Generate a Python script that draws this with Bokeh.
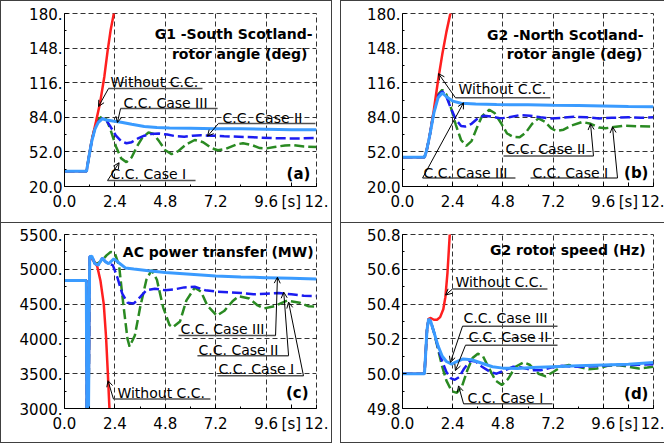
from bokeh.plotting import figure
from bokeh.layouts import row, column
from bokeh.models import Range1d, FixedTicker, Label, Arrow, OpenHead, Spacer
from bokeh.embed import file_html
from bokeh.resources import INLINE

FONT = "DejaVu Sans"
RED = "#ff1f1f"
LBLUE = "#3a9bff"
DBLUE = "#1c1cf0"
GREEN = "#2a8a22"

# ---------------- shared time axis ----------------
time_ticks = [0.0, 2.4, 4.8, 7.2, 9.6, 10.8, 12.0]
time_tick_labels = ["0.0", "2.4", "4.8", "7.2", "9.6", "[s]", "12."]
time_minor_ticks = [1.2, 3.6, 6.0, 8.4]
time_grid = [2.4, 4.8, 7.2, 9.6]

# ---------------- (a) G1 rotor angle ----------------
a_yticks = [20, 52, 84, 116, 148, 180]
a_ylabels = ["20.0", "52.0", "84.0", "116.", "148.", "180."]
a_red_t = [0, 1.05, 1.15, 1.3, 1.5, 1.7, 1.9, 2.05, 2.2, 2.35, 2.4]
a_red_v = [34, 34, 46, 63, 80, 98, 122, 145, 165, 180, 187]
a_c3_t = [0, 1.05, 1.15, 1.3, 1.45, 1.6, 1.8, 2.0, 2.3, 2.7, 3.2, 3.8, 4.4, 5.0, 6.0, 7.2, 8.4, 9.6, 10.8, 12]
a_c3_v = [34, 34, 46, 62, 73, 79, 82.5, 81.5, 80.5, 79.5, 77.5, 75.5, 74.5, 74, 73.8, 73.5, 73.3, 73, 72.6, 72.4]
a_c2_t = [0, 1.05, 1.15, 1.3, 1.45, 1.6, 1.8, 2.0, 2.2, 2.45, 2.7, 2.95, 3.2, 3.5, 3.8, 4.1, 4.5, 4.9, 5.3, 5.7,
          6.1, 6.5, 7.0, 7.6, 8.3, 9.0, 9.8, 10.6, 11.3, 12]
a_c2_v = [34, 34, 46, 62, 74, 80, 83, 81, 75, 67, 62, 60, 61, 64.5, 67, 68.5, 69, 68, 66.5, 66,
          67, 67.5, 67, 66.5, 66, 65.5, 64.8, 64.5, 64.5, 65]
a_c1_t = [0, 1.05, 1.15, 1.3, 1.45, 1.6, 1.8, 2.0, 2.2, 2.45, 2.7, 2.95, 3.2, 3.45, 3.7, 4.0, 4.25, 4.5, 4.8,
          5.1, 5.4, 5.8, 6.2, 6.6, 7.0, 7.3, 7.7, 8.2, 8.5, 8.9, 9.3, 9.6, 10.0, 10.5, 10.9, 11.4, 12]
a_c1_v = [34, 34, 46, 63, 75, 82, 85, 82, 72, 57, 46, 42.5, 47, 57, 65, 70, 68.5, 62, 53.5,
          50, 52.5, 59, 63, 61, 55.5, 53.5, 55, 59, 60, 58.5, 55.5, 55.2, 56.5, 58, 58.3, 57, 56.5]

# ---------------- (b) G2 rotor angle ----------------
b_yticks = a_yticks
b_ylabels = a_ylabels
b_red_t = [0, 1.05, 1.15, 1.3, 1.5, 1.7, 1.9, 2.1, 2.3, 2.35]
b_red_v = [47, 47, 53, 67, 91, 118, 142, 163, 181, 187]
b_c3_t = [0, 1.05, 1.15, 1.3, 1.5, 1.7, 1.9, 2.1, 2.4, 2.8, 3.5, 4.5, 6.0, 7.2, 8.4, 9.6, 10.8, 12]
b_c3_v = [47, 47, 53, 67, 88, 102, 106.5, 103, 99, 97, 96.2, 95.8, 95.5, 95.2, 95, 94.5, 94, 93.7]
b_c2_t = [0, 1.05, 1.15, 1.3, 1.5, 1.7, 1.9, 2.1, 2.3, 2.55, 2.8, 3.0, 3.3, 3.6, 3.9, 4.3, 4.7, 5.1, 5.6,
          6.1, 6.6, 7.1, 7.6, 8.2, 8.8, 9.4, 10.0, 10.8, 11.4, 12]
b_c2_v = [47, 47, 53, 67, 89, 104, 108, 103, 93, 82, 76, 75.5, 78, 83, 85.5, 84.5, 83, 84, 86,
          85.5, 84, 83, 83.5, 84.5, 84, 83, 83.5, 84, 83.5, 84]
b_c1_t = [0, 1.05, 1.15, 1.3, 1.5, 1.7, 1.9, 2.1, 2.3, 2.55, 2.8, 3.05, 3.3, 3.55, 3.8, 4.15, 4.4, 4.7, 5.0,
          5.3, 5.6, 5.9, 6.2, 6.5, 6.8, 7.1, 7.35, 7.7, 8.1, 8.6, 9.0, 9.4, 9.7, 10.1, 10.6, 11.2, 12]
b_c1_v = [47, 47, 53, 67, 90, 105, 109.5, 105, 94, 77, 63, 57.6, 62, 74, 85, 91, 88, 79, 69,
          65.8, 65.5, 70, 78, 83, 80, 74, 71.3, 72.5, 76.5, 79.7, 78, 74.5, 73.8, 75, 76.3, 75.8, 75.5]

# ---------------- (c) AC power transfer ----------------
c_yticks = [3000, 3500, 4000, 4500, 5000, 5500]
c_ylabels = ["3000.", "3500.", "4000.", "4500.", "5000.", "5500."]
c_red_t = [0, 1.04, 1.06, 1.14, 1.2, 1.3, 1.45, 1.56, 1.71, 1.87, 1.98, 2.06, 2.14, 2.18]
c_red_v = [4840, 4840, 2800, 2800, 5180, 5150, 5100, 5040, 4840, 4500, 4020, 3530, 3000, 2700]
c_c3_t = [0, 1.04, 1.06, 1.14, 1.2, 1.3, 1.45, 1.6, 1.8, 1.95, 2.1, 2.35, 2.6, 2.9, 3.3, 4.0, 4.8, 6.0,
          7.2, 8.4, 9.6, 10.8, 12]
c_c3_v = [4840, 4840, 2800, 2800, 5180, 5190, 5080, 5060, 5160, 5110, 5080, 5150, 5090, 5020, 5005, 4980,
          4955, 4930, 4905, 4890, 4880, 4870, 4860]
c_c2_t = [0, 1.04, 1.06, 1.14, 1.2, 1.3, 1.45, 1.6, 1.8, 1.95, 2.1, 2.3, 2.5, 2.75, 3.0, 3.3, 3.6, 3.9, 4.3,
          4.8, 5.2, 5.7, 6.2, 6.7, 7.2, 7.8, 8.4, 9.0, 9.6, 10.2, 10.8, 11.4, 12]
c_c2_v = [4840, 4840, 2800, 2800, 5180, 5190, 5080, 5060, 5160, 5110, 5080, 5060, 4900, 4650, 4520, 4510,
          4600, 4700, 4720, 4700, 4710, 4740, 4750, 4700, 4680, 4670, 4660, 4640, 4650, 4660, 4640, 4620, 4615]
c_c1_t = [0, 1.04, 1.06, 1.14, 1.2, 1.3, 1.45, 1.6, 1.8, 2.0, 2.2, 2.4, 2.6, 2.8, 3.0, 3.1, 3.35, 3.6, 3.9,
          4.15, 4.4, 4.7, 5.0, 5.15, 5.5, 5.8, 6.2, 6.5, 6.8, 7.25, 7.6, 8.0, 8.3, 8.8, 9.2, 9.5, 10.0, 10.6,
          11.2, 11.6, 12]
c_c1_v = [4840, 4840, 2800, 2800, 5150, 5170, 5080, 5090, 5130, 5200, 5250, 5230, 5050, 4500, 4000, 3890,
          4050, 4450, 4850, 4990, 4850, 4450, 4200, 4165, 4250, 4550, 4735, 4680, 4480, 4335, 4400, 4540,
          4613, 4580, 4480, 4437, 4470, 4551, 4520, 4470, 4465]

# ---------------- (d) G2 rotor speed ----------------
d_yticks = [49.8, 50.0, 50.2, 50.4, 50.6, 50.8]
d_ylabels = ["49.8", "50.0", "50.2", "50.4", "50.6", "50.8"]
d_red_t = [0, 1.05, 1.1, 1.17, 1.25, 1.35, 1.5, 1.65, 1.8, 1.95, 2.05, 2.15, 2.22, 2.27]
d_red_v = [50.0, 50.0, 50.1, 50.25, 50.315, 50.32, 50.31, 50.31, 50.325, 50.37, 50.44, 50.58, 50.72, 50.82]
d_c3_t = [0, 1.05, 1.1, 1.17, 1.25, 1.35, 1.5, 1.7, 1.9, 2.1, 2.35, 2.6, 2.9, 3.3, 3.8, 4.3, 4.8, 5.5, 6.2,
          7.2, 8.4, 9.6, 10.8, 12]
d_c3_v = [50.0, 50.0, 50.1, 50.25, 50.315, 50.3, 50.24, 50.16, 50.1, 50.07, 50.055, 50.07, 50.085, 50.08,
          50.06, 50.04, 50.032, 50.03, 50.035, 50.04, 50.045, 50.05, 50.055, 50.065]
d_c2_t = [0, 1.05, 1.1, 1.17, 1.25, 1.35, 1.5, 1.7, 1.9, 2.1, 2.3, 2.5, 2.7, 2.95, 3.25, 3.5, 3.8, 4.2, 4.5,
          4.9, 5.3, 5.7, 6.2, 6.6, 7.1, 7.6, 8.2, 8.8, 9.4, 10.0, 11.0, 12]
d_c2_v = [50.0, 50.0, 50.1, 50.25, 50.315, 50.3, 50.24, 50.15, 50.07, 50.01, 49.975, 49.965, 49.98, 50.03,
          50.075, 50.07, 50.04, 50.01, 50.0, 50.02, 50.04, 50.035, 50.02, 50.02, 50.035, 50.045, 50.04, 50.04,
          50.045, 50.05, 50.05, 50.055]
d_c1_t = [0, 1.05, 1.1, 1.17, 1.25, 1.35, 1.5, 1.7, 1.9, 2.1, 2.35, 2.6, 2.85, 3.1, 3.35, 3.6, 3.85, 4.1,
          4.45, 4.75, 5.05, 5.4, 5.8, 6.1, 6.5, 6.85, 7.2, 7.6, 7.95, 8.4, 8.9, 9.3, 9.8, 10.3, 10.8, 11.3,
          11.7, 12]
d_c1_v = [50.0, 50.0, 50.1, 50.25, 50.315, 50.3, 50.24, 50.14, 50.04, 49.96, 49.9, 49.89, 49.93, 50.02,
          50.09, 50.115, 50.1, 50.04, 49.96, 49.935, 49.97, 50.04, 50.065, 50.05, 50.0, 49.985, 50.01, 50.04,
          50.05, 50.04, 50.025, 50.03, 50.045, 50.05, 50.04, 50.03, 50.035, 50.04]


def make_panel(w, h, bl, br, bt, bb, yr, yticks, ylabels):
    p = figure(width=w, height=h, output_backend="svg", toolbar_location=None,
               x_range=Range1d(0, 12), y_range=Range1d(yr[0], yr[1]),
               min_border_left=bl, min_border_right=br, min_border_top=bt, min_border_bottom=bb)
    p.background_fill_color = "white"
    p.border_fill_color = "white"
    p.outline_line_color = "#333333"
    p.outline_line_dash = "5 3"
    p.outline_line_width = 1
    xa = p.xaxis[0]
    xa.ticker = FixedTicker(ticks=time_ticks, minor_ticks=time_minor_ticks)
    xa.major_label_overrides = {t: l for t, l in zip(time_ticks, time_tick_labels)}
    ya = p.yaxis[0]
    step = yticks[1] - yticks[0]
    ya.ticker = FixedTicker(ticks=yticks, minor_ticks=[v + step / 2 for v in yticks[:-1]])
    ya.major_label_overrides = {t: l for t, l in zip(yticks, ylabels)}
    for ax in (xa, ya):
        ax.axis_line_color = "black"
        ax.axis_line_width = 1
        ax.major_tick_in = 4
        ax.major_tick_out = 0
        ax.minor_tick_in = 2
        ax.minor_tick_out = 0
        ax.major_tick_line_color = "black"
        ax.minor_tick_line_color = "black"
        ax.major_label_text_font = FONT
        ax.major_label_text_font_size = "15px"
        ax.major_label_text_color = "black"
    xa.major_label_standoff = 6
    ya.major_label_standoff = 2
    p.xgrid.ticker = FixedTicker(ticks=time_grid)
    p.ygrid.ticker = FixedTicker(ticks=yticks[1:])
    for g in (p.xgrid[0], p.ygrid[0]):
        g.grid_line_color = "#333333"
        g.grid_line_dash = "5 3"
        g.grid_line_width = 1
    return p


def add_series(p, c1, c2, red, c3):
    p.line(c1[0], c1[1], color=GREEN, line_width=2.5, line_dash="10 4")
    p.line(c2[0], c2[1], color=DBLUE, line_width=2.5, line_dash="10 4")
    p.line(red[0], red[1], color=RED, line_width=2.5)
    p.line(c3[0], c3[1], color=LBLUE, line_width=3)


def annotate(p, text, tx, ty, ux0, ux1, uy, lx0, ly0, lx1, ly1):
    p.add_layout(Label(x=tx, y=ty, text=text, text_font=FONT, text_font_size="14px",
                       text_baseline="middle", text_align="left", text_color="black"))
    p.line([ux0, ux1], [uy, uy], color="#505050", line_width=1.5)
    p.add_layout(Arrow(end=OpenHead(size=6, line_width=1, line_color="black"),
                       x_start=lx0, y_start=ly0, x_end=lx1, y_end=ly1,
                       line_width=1, line_color="black"))


def title(p, text, x, y, size="14px"):
    p.add_layout(Label(x=x, y=y, text=text, text_font=FONT, text_font_size=size,
                       text_font_style="bold", text_baseline="middle", text_align="right",
                       text_color="black"))


# ---- (a)
pa = make_panel(330, 221, 63, 15, 12, 36, (20, 180), a_yticks, a_ylabels)
add_series(pa, (a_c1_t, a_c1_v), (a_c2_t, a_c2_v), (a_red_t, a_red_v), (a_c3_t, a_c3_v))
annotate(pa, "Without C.C.", 2.19, 117.1, 2.095, 6.57, 110.6, 2.095, 110.6, 1.62, 94)
annotate(pa, "C.C. Case III", 2.81, 96.8, 2.67, 7.29, 92.1, 2.67, 92.1, 2.52, 79.2)
annotate(pa, "C.C. Case II", 7.52, 83.8, 7.33, 11.95, 78.3, 7.33, 78.3, 6.81, 66.5)
annotate(pa, "C.C. Case I", 2.19, 32.0, 2.05, 6.24, 25.5, 2.05, 25.5, 2.6, 42)
title(pa, "G1 -South Scotland-", 11.81, 160.6)
title(pa, "rotor angle (deg)", 11.57, 142.6)
title(pa, "(a)", 11.71, 31.7, "15px")

# ---- (b)
pb = make_panel(323, 221, 61, 11, 12, 36, (20, 180), b_yticks, b_ylabels)
add_series(pb, (b_c1_t, b_c1_v), (b_c2_t, b_c2_v), (b_red_t, b_red_v), (b_c3_t, b_c3_v))
annotate(pb, "Without C.C.", 2.68, 110.4, 2.53, 7.07, 102.1, 2.53, 102.1, 1.72, 124.4)
annotate(pb, "C.C. Case III", 1.0, 32.5, 0.96, 5.4, 27.9, 0.96, 27.9, 2.92, 97.5)
annotate(pb, "C.C. Case II", 4.92, 54.8, 4.83, 9.13, 48.3, 9.13, 48.3, 8.99, 78.0)
annotate(pb, "C.C. Case I", 6.21, 32.5, 6.12, 10.28, 27.9, 10.28, 27.9, 10.04, 75.2)
title(pb, "G2 -North Scotland-", 11.52, 160.5)
title(pb, "rotor angle (deg)", 11.47, 142.9)
title(pb, "(b)", 11.76, 32.8, "15px")

# ---- (c)
pc = make_panel(330, 219, 63, 15, 11, 34, (3000, 5500), c_yticks, c_ylabels)
add_series(pc, (c_c1_t, c_c1_v), (c_c2_t, c_c2_v), (c_red_t, c_red_v), (c_c3_t, c_c3_v))
annotate(pc, "C.C. Case III", 5.52, 4149, 5.43, 10.05, 4048, 10.05, 4048, 10.14, 4886)
annotate(pc, "C.C. Case II", 6.38, 3845, 6.33, 10.67, 3759, 10.67, 3759, 10.44, 4673)
annotate(pc, "C.C. Case I", 7.33, 3571, 7.29, 11.38, 3470, 11.38, 3470, 10.67, 4529)
annotate(pc, "Without C.C.", 2.52, 3224, 2.33, 6.95, 3137, 2.33, 3137, 2.07, 3400)
title(pc, "AC power transfer (MW)", 11.86, 5251)
title(pc, "(c)", 11.62, 3228, "15px")

# ---- (d)
pd = make_panel(323, 219, 61, 11, 11, 34, (49.8, 50.8), d_yticks, d_ylabels)
add_series(pd, (d_c1_t, d_c1_v), (d_c2_t, d_c2_v), (d_red_t, d_red_v), (d_c3_t, d_c3_v))
annotate(pd, "Without C.C.", 2.53, 50.527, 2.39, 6.93, 50.487, 2.39, 50.487, 2.06, 50.452)
annotate(pd, "C.C. Case III", 2.92, 50.319, 2.87, 7.41, 50.273, 2.87, 50.273, 2.29, 50.065)
annotate(pd, "C.C. Case II", 3.15, 50.209, 3.01, 7.41, 50.163, 3.01, 50.163, 2.53, 50.018)
annotate(pd, "C.C. Case I", 3.11, 49.862, 2.92, 7.17, 49.827, 2.92, 49.827, 2.68, 49.93)
title(pd, "G2 rotor speed (Hz)", 11.62, 50.713)
title(pd, "(d)", 11.76, 49.883, "15px")

BORDER = "1px solid #404040"
wa = column(pa, styles={"border": BORDER})
wc = column(pc, styles={"border": BORDER, "border-top": "none"})
wb = column(pb, styles={"border": BORDER, "border-right": "none"})
wd = column(pd, styles={"border": BORDER, "border-right": "none", "border-top": "none"})

layout = row(column(wa, wc), Spacer(width=8), column(wb, wd))

open("out.html", "w").write(file_html(layout, INLINE))
